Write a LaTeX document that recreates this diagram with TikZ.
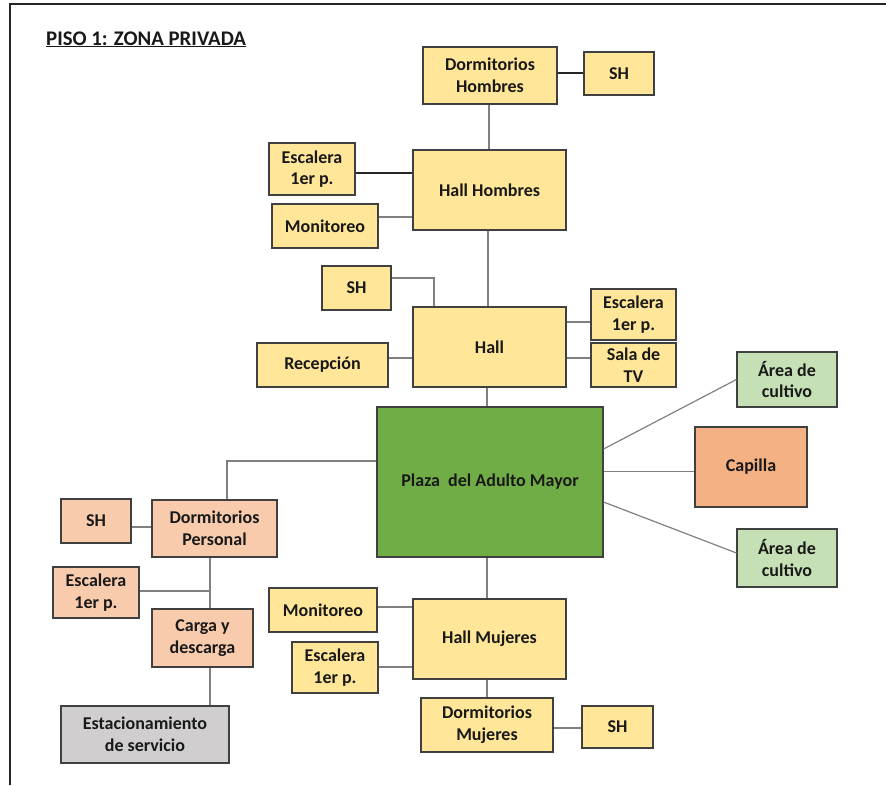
\documentclass[tikz,border=0pt]{standalone}
\usepackage{fontspec}
\setmainfont{Carlito}
\definecolor{ylw}{HTML}{FFE699}
\definecolor{peach}{HTML}{F8CBAD}
\definecolor{orng}{HTML}{F4B183}
\definecolor{grn}{HTML}{70AD47}
\definecolor{lgrn}{HTML}{C5E0B4}
\definecolor{gry}{HTML}{D0CECE}
\definecolor{conn}{HTML}{808080}
\tikzset{
  box/.style={draw=black!75, line width=1.1pt, inner sep=0pt, align=center,
    font=\fontsize{18}{21.7}\selectfont\bfseries, text=black!90},
  yb/.style={box, fill=ylw},
  pb/.style={box, fill=peach},
  wire/.style={draw=conn, line width=1.2pt},
  dwire/.style={draw=black!85, line width=1.2pt},
}
\begin{document}
\begin{tikzpicture}[x=1pt,y=-1pt]
\useasboundingbox (0,0) rectangle (886,785);
\draw[line width=2pt, black!85] (10,785) -- (10,4) -- (886,4);
\node[anchor=base west, font=\fontsize{20.8}{24}\selectfont\bfseries, text=black!90, inner sep=0pt] (title) at (46,45) {\underline{PISO 1: ZONA PRIVADA}};

% nodes
\node[yb, minimum width=134pt, minimum height=57pt] (dh) at (490,75.5) {Dormitorios\\Hombres};
\node[yb, minimum width=70pt, minimum height=43pt] (shh) at (619,73.5) {SH};
\node[yb, minimum width=153pt, minimum height=80pt] (hh) at (489.5,190) {Hall Hombres};
\node[yb, minimum width=86pt, minimum height=52pt] (esc1) at (312,169) {Escalera\\1er p.};
\node[yb, minimum width=106pt, minimum height=44pt] (mon1) at (325,226) {Monitoreo};
\node[yb, minimum width=69pt, minimum height=44pt] (sh2) at (356.5,288) {SH};
\node[yb, minimum width=153pt, minimum height=80pt] (hall) at (489.5,347) {Hall};
\node[yb, minimum width=85pt, minimum height=51pt] (esc2) at (633.5,314.5) {Escalera\\1er p.};
\node[yb, minimum width=85pt, minimum height=44pt] (tv) at (633.5,365) {Sala de\\TV};
\node[yb, minimum width=131pt, minimum height=44pt] (rec) at (322.5,365) {Recepción};
\node[box, fill=grn, minimum width=226pt, minimum height=150pt] (plaza) at (490,482) {Plaza\ \ del Adulto Mayor};
\node[box, fill=lgrn, minimum width=100pt, minimum height=55pt] (area1) at (787,379.5) {Área de\\cultivo};
\node[box, fill=orng, minimum width=112pt, minimum height=80pt] (cap) at (751,467) {Capilla};
\node[box, fill=lgrn, minimum width=100pt, minimum height=58pt] (area2) at (787,558) {Área de\\cultivo};
\node[pb, minimum width=125pt, minimum height=57pt] (dp) at (214.5,528.5) {Dormitorios\\Personal};
\node[pb, minimum width=70pt, minimum height=44pt] (sh3) at (96,521) {SH};
\node[pb, minimum width=86pt, minimum height=51pt] (esc3) at (96,592.5) {Escalera\\1er p.};
\node[pb, minimum width=101pt, minimum height=58pt] (carga) at (202.5,638) {Carga y\\descarga};
\node[box, fill=gry, minimum width=168pt, minimum height=57pt] (est) at (145,734.5) {Estacionamiento\\de servicio};
\node[yb, minimum width=108pt, minimum height=44pt] (mon2) at (323,610) {Monitoreo};
\node[yb, minimum width=86pt, minimum height=51pt] (esc4) at (335,667.5) {Escalera\\1er p.};
\node[yb, minimum width=153pt, minimum height=80pt] (hm) at (489.5,639) {Hall Mujeres};
\node[yb, minimum width=132pt, minimum height=54pt] (dm) at (487,725) {Dormitorios\\Mujeres};
\node[yb, minimum width=71pt, minimum height=42pt] (sh4) at (617.5,727) {SH};

% connectors
\path[dwire] (dh.east |- 0,73) -- (shh.west |- 0,73);
\path[wire] (dh.south -| 489,0) -- (hh.north -| 489,0);
\path[dwire] (esc1.east |- 0,173) -- (hh.west |- 0,173);
\path[wire] (mon1.east |- 0,217) -- (hh.west |- 0,217);
\path[wire] (hh.south -| 488,0) -- (hall.north -| 488,0);
\path[wire] (sh2.east |- 0,278) -| (hall.north -| 434,0);
\path[wire] (hall.east |- 0,322) -- (esc2.west |- 0,322);
\path[wire] (hall.east |- 0,358) -- (tv.west |- 0,358);
\path[wire] (rec.east |- 0,358) -- (hall.west |- 0,358);
\path[wire] (hall.south -| 487,0) -- (plaza.north -| 487,0);
\path[wire] (plaza.east |- 0,449) -- (area1.west);
\path[wire] (plaza.east |- 0,471.5) -- (cap.west |- 0,471.5);
\path[wire] (plaza.east |- 0,502) -- (area2.west |- 0,553);
\path[wire] (plaza.west |- 0,461) -| (dp.north -| 227,0);
\path[wire] (sh3.east |- 0,527) -- (dp.west |- 0,527);
\coordinate (jn) at (210,591);
\path[wire] (dp.south -| jn) -- (carga.north -| jn);
\path[wire] (esc3.east |- jn) -- (jn);
\path[wire] (carga.south -| jn) -- (est.north -| jn);
\path[wire] (plaza.south -| 487,0) -- (hm.north -| 487,0);
\path[wire] (mon2.east |- 0,607) -- (hm.west |- 0,607);
\path[wire] (esc4.east |- 0,667) -- (hm.west |- 0,667);
\path[wire] (hm.south -| 487,0) -- (dm.north -| 487,0);
\path[wire] (dm.east |- 0,728) -- (sh4.west |- 0,728);
\end{tikzpicture}
\end{document}
